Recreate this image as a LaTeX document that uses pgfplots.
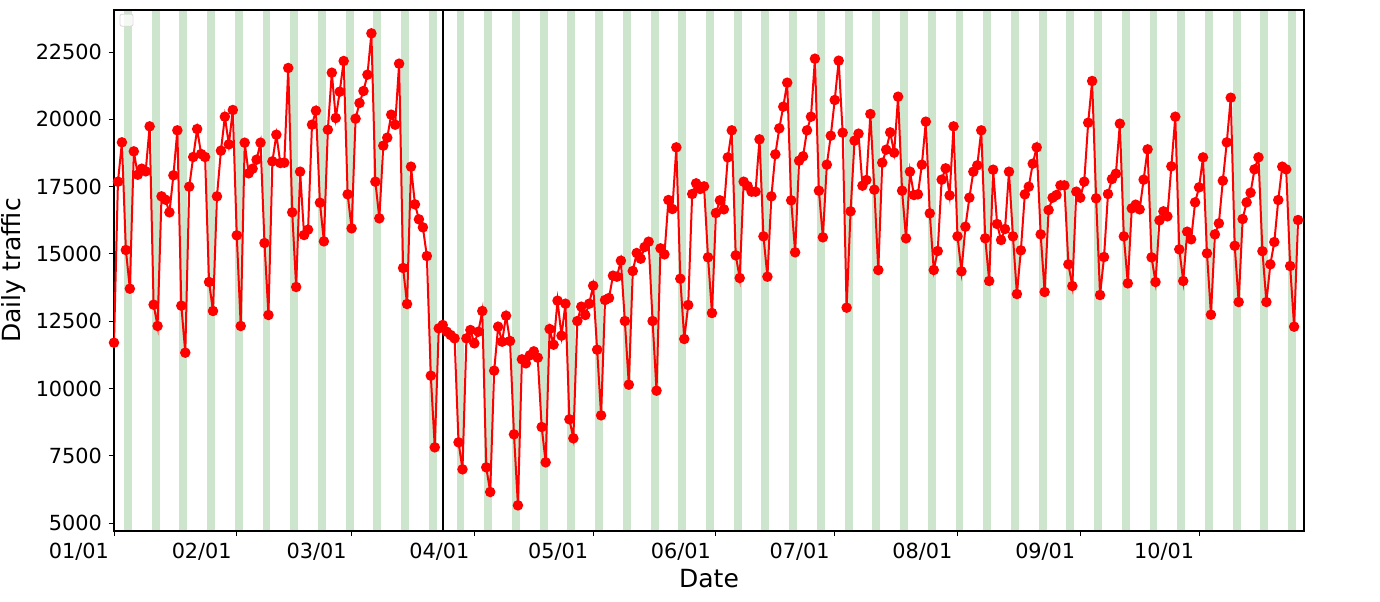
\documentclass[border=0pt]{standalone}
\usepackage{fontspec}
\setmainfont{DejaVu Sans}
\usepackage{pgfplots}
\usepackage{pgfplotstable}
\pgfplotsset{compat=1.18}
\definecolor{bandgreen}{RGB}{204,229,204}
\pgfplotstableread{
x y
0 11700
1 17682
2 19144
3 15143
4 13707
5 18809
6 17942
7 18165
8 18066
9 19738
10 13112
11 12320
12 17137
13 17013
14 16543
15 17918
16 19590
17 13075
18 11329
19 17496
20 18599
21 19639
22 18710
23 18599
24 13954
25 12877
26 17137
27 18834
28 20097
29 19069
30 20345
31 15688
32 12320
33 19131
34 17992
35 18165
36 18500
37 19131
38 15403
39 12728
40 18438
41 19429
42 18376
43 18388
44 21906
45 16543
46 13769
47 18054
48 15700
49 15900
50 19800
51 20320
52 16902
53 15465
54 19614
55 21732
56 20048
57 21026
58 22166
59 17212
60 15948
61 20023
62 20605
63 21051
64 21658
65 23194
66 17682
67 16320
68 19020
69 19317
70 20172
71 19800
72 22067
73 14475
74 13137
75 18240
76 16840
77 16283
78 15985
79 14920
80 10474
81 7811
82 12233
83 12357
84 12109
85 11985
86 11861
87 7997
88 6994
89 11861
90 12171
91 11675
92 12109
93 12877
94 7068
95 6152
96 10660
97 12295
98 11737
99 12703
100 11762
101 8294
102 5656
103 11081
104 10932
105 11230
106 11378
107 11143
108 8567
109 7254
110 12208
111 11626
112 13261
113 11960
114 13149
115 8852
116 8146
117 12505
118 13038
119 12728
120 13149
121 13818
122 11440
123 9000
124 13286
125 13360
126 14190
127 14152
128 14747
129 12505
130 10140
131 14363
132 15032
133 14821
134 15255
135 15453
136 12505
137 9917
138 15205
139 14982
140 17001
141 16667
142 18958
143 14078
144 11837
145 13100
146 17224
147 17620
148 17410
149 17509
150 14871
151 12803
152 16518
153 16989
154 16654
155 18586
156 19590
157 14945
158 14103
159 17682
160 17521
161 17311
162 17311
163 19255
164 15651
165 14152
166 17137
167 18698
168 19664
169 20469
170 21361
171 16989
172 15057
173 18462
174 18624
175 19590
176 20097
177 22252
178 17348
179 15614
180 18314
181 19391
182 20717
183 22178
184 19503
185 13001
186 16580
187 19206
188 19466
189 17534
190 17744
191 20196
192 17385
193 14400
194 18388
195 18871
196 19515
197 18760
198 20840
199 17348
200 15577
201 18054
202 17187
203 17212
204 18314
205 19912
206 16506
207 14400
208 15106
209 17757
210 18178
211 17174
212 19738
213 15651
214 14351
215 16010
216 17088
217 18054
218 18289
219 19590
220 15577
221 13992
222 18128
223 16109
224 15515
225 15923
226 18054
227 15651
228 13508
229 15131
230 17212
231 17496
232 18351
233 18958
234 15725
235 13583
236 16629
237 17088
238 17187
239 17546
240 17546
241 14611
242 13806
243 17311
244 17088
245 17682
246 19874
247 21423
248 17063
249 13471
250 14883
251 17224
252 17781
253 17979
254 19837
255 15651
256 13905
257 16691
258 16828
259 16654
260 17757
261 18884
262 14871
263 13954
264 16246
265 16580
266 16394
267 18252
268 20097
269 15168
270 13992
271 15824
272 15540
273 16914
274 17472
275 18586
276 15019
277 12741
278 15725
279 16134
280 17719
281 19144
282 20803
283 15300
284 13211
285 16295
286 16914
287 17273
288 18140
289 18586
290 15100
291 13211
292 14611
293 15440
294 17001
295 18240
296 18140
297 14549
298 12295
299 16258
}\traffic
\begin{document}
\begin{tikzpicture}
\begin{axis}[
  set layers,
  scale only axis,
  width=595pt, height=260.5pt,
  xmin=0, xmax=300.5,
  ymin=4703, ymax=24061,
  xtick={0,31,60,91,121,152,182,213,244,274},
  xticklabels={01/01,02/01,03/01,04/01,05/01,06/01,07/01,08/01,09/01,10/01},
  ytick={5000,7500,10000,12500,15000,17500,20000,22500},
  scaled y ticks=false,
  yticklabel style={/pgf/number format/fixed,/pgf/number format/1000 sep={}},
  /pgf/number format/assume math mode=true,
  tick label style={font=\fontsize{10.4}{12.5}\selectfont},
  xticklabel style={anchor=north east, xshift=1pt},
  tick align=outside,
  major tick length=2.5pt,
  tick style={black, line width=0.5pt},
  xtick pos=bottom, ytick pos=left,
  axis line style={line width=0.55pt},
  xlabel={Date},
  ylabel={Daily traffic},
  label style={font=\fontsize{12.5}{15}\selectfont},
  xlabel style={at={(axis description cs:0.5,0)}, anchor=center, yshift=-24pt},
  ylabel style={at={(axis description cs:-0.084,0.5)}, anchor=center},
]
\begin{pgfonlayer}{axis background}
\pgfplotsinvokeforeach{0,...,42}{
  \fill[bandgreen] (axis cs:{3+7*#1-0.5},4703) rectangle (axis cs:{3+7*#1+1.5},24061);
}
\end{pgfonlayer}
\draw[black, line width=1pt] (axis cs:83,4703) -- (axis cs:83,24061);
\addplot[red, line width=1pt, mark=*, mark size=2.1pt, mark options={fill=red, draw=red}] table[x=x,y=y] {\traffic};
\draw[gray!30, fill=white, fill opacity=0.8, rounded corners=1pt] (rel axis cs:0.005,0.992) rectangle (rel axis cs:0.016,0.969);
\end{axis}
\path (current axis.south west) ++(-57pt,-35pt) coordinate (bbA);
\path (current axis.north east) ++(38pt,5pt) coordinate (bbB);
\pgfresetboundingbox
\path (bbA) rectangle (bbB);
\end{tikzpicture}
\end{document}
